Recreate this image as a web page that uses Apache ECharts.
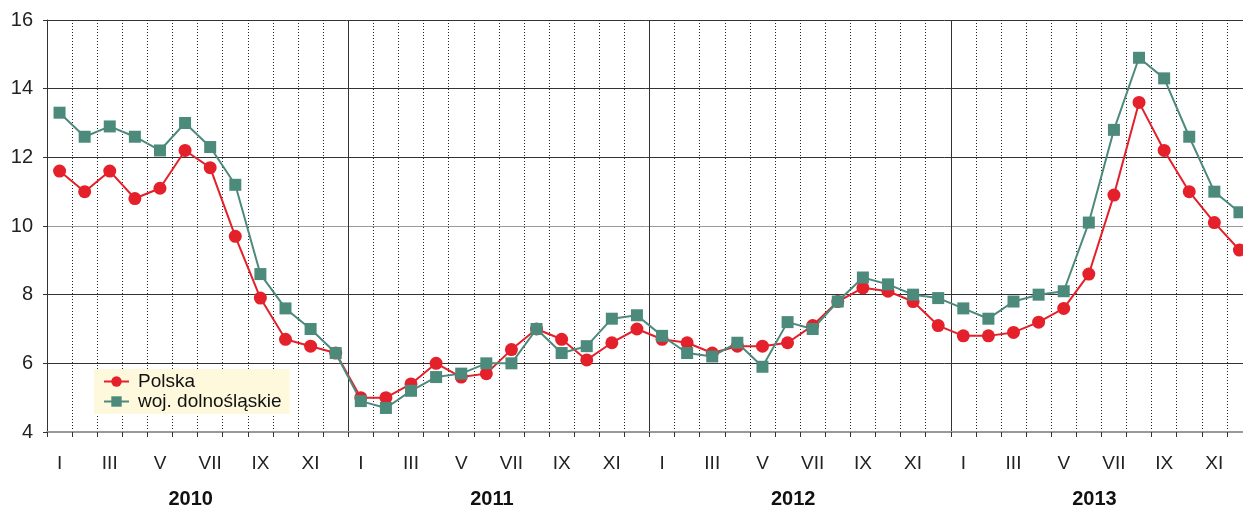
<!DOCTYPE html>
<html>
<head>
<meta charset="utf-8">
<script src="https://cdn.jsdelivr.net/npm/echarts@6/dist/echarts.min.js"></script>
<style>
  html, body { margin: 0; padding: 0; background: #fff; }
  #chart { width: 1243px; height: 509px; }
</style>
</head>
<body>
<div id="chart"></div>
<script>
var months = ['I', 'II', 'III', 'IV', 'V', 'VI', 'VII', 'VIII', 'IX', 'X', 'XI', 'XII'];
var years = ['2010', '2011', '2012', '2013'];
var yTicks = [4, 6, 8, 10, 12, 14, 16];

var polska = [
    11.6, 11.0, 11.6, 10.8, 11.1, 12.2, 11.7, 9.7, 7.9, 6.7, 6.5, 6.3,
    5.0, 5.0, 5.4, 6.0, 5.6, 5.7, 6.4, 7.0, 6.7, 6.1, 6.6, 7.0,
    6.7, 6.6, 6.3, 6.5, 6.5, 6.6, 7.1, 7.8, 8.2, 8.1, 7.8, 7.1,
    6.8, 6.8, 6.9, 7.2, 7.6, 8.6, 10.9, 13.6, 12.2, 11.0, 10.1, 9.3
];
var dolnoslaskie = [
    13.3, 12.6, 12.9, 12.6, 12.2, 13.0, 12.3, 11.2, 8.6, 7.6, 7.0, 6.3,
    4.9, 4.7, 5.2, 5.6, 5.7, 6.0, 6.0, 7.0, 6.3, 6.5, 7.3, 7.4,
    6.8, 6.3, 6.2, 6.6, 5.9, 7.2, 7.0, 7.8, 8.5, 8.3, 8.0, 7.9,
    7.6, 7.3, 7.8, 8.0, 8.1, 10.1, 12.8, 14.9, 14.3, 12.6, 11.0, 10.4
];

var monthCats = [];
years.forEach(function (y) {
    months.forEach(function (m) { monthCats.push(m); });
});

var chart = echarts.init(document.getElementById('chart'));
var font = 'Liberation Sans, Arial, sans-serif';

var option = {
    backgroundColor: '#ffffff',
    animation: false,
    textStyle: { fontFamily: font },
    grid: { left: 47, top: 20, width: 1205, height: 412, outerBoundsMode: 'none', containLabel: false },
    legend: {
        orient: 'vertical',
        left: 94,
        top: 369,
        padding: [3, 8, 3, 9],
        itemGap: 1,
        itemWidth: 25,
        itemHeight: 13,
        backgroundColor: '#fef9dc',
        textStyle: { fontSize: 19, color: '#111', fontFamily: font, padding: [0, 0, 0, 4] },
        data: ['Polska', 'woj. dolnośląskie']
    },
    xAxis: [
        {
            type: 'category',
            data: monthCats,
            boundaryGap: true,
            axisLine: { show: true, lineStyle: { color: '#999', width: 2 } },
            axisTick: { show: true, interval: 0, length: 5, lineStyle: { color: '#333' } },
            axisLabel: { interval: 1, margin: 22, fontSize: 19, color: '#222', fontFamily: font },
            splitLine: { show: true, interval: 0, lineStyle: { color: '#222', type: [1, 2], width: 1 } }
        },
        {
            type: 'category',
            data: years,
            position: 'bottom',
            boundaryGap: true,
            axisLine: { show: false },
            axisTick: { show: true, interval: 0, length: 5, lineStyle: { color: '#333' } },
            axisLabel: {
                interval: 0, margin: 57, fontSize: 20, fontWeight: 'bold', color: '#111',
                fontFamily: font, padding: [0, 14, 0, 0]
            },
            splitLine: { show: true, interval: 0, lineStyle: { color: '#333', width: 1 } }
        }
    ],
    yAxis: {
        type: 'value',
        min: yTicks[0],
        max: yTicks[yTicks.length - 1],
        interval: 2,
        axisLine: { show: true, lineStyle: { color: '#333', width: 1 } },
        axisTick: { show: true, length: 4, lineStyle: { color: '#333' } },
        axisLabel: { margin: 14, fontSize: 20, color: '#222', fontFamily: font },
        splitLine: {
            show: true,
            lineStyle: { color: ['#999', '#333', '#333', '#999', '#333', '#333', '#333'], width: 1 }
        }
    },
    series: [
        {
            name: 'Polska',
            type: 'line',
            data: polska,
            symbol: 'circle',
            symbolSize: 13,
            itemStyle: { color: '#e4202a' },
            lineStyle: { color: '#e4202a', width: 2 }
        },
        {
            name: 'woj. dolnośląskie',
            type: 'line',
            data: dolnoslaskie,
            symbol: 'rect',
            symbolSize: 12,
            itemStyle: { color: '#4c8a7c' },
            lineStyle: { color: '#4c8a7c', width: 2 }
        }
    ]
};

option && chart.setOption(option);
</script>
</body>
</html>
